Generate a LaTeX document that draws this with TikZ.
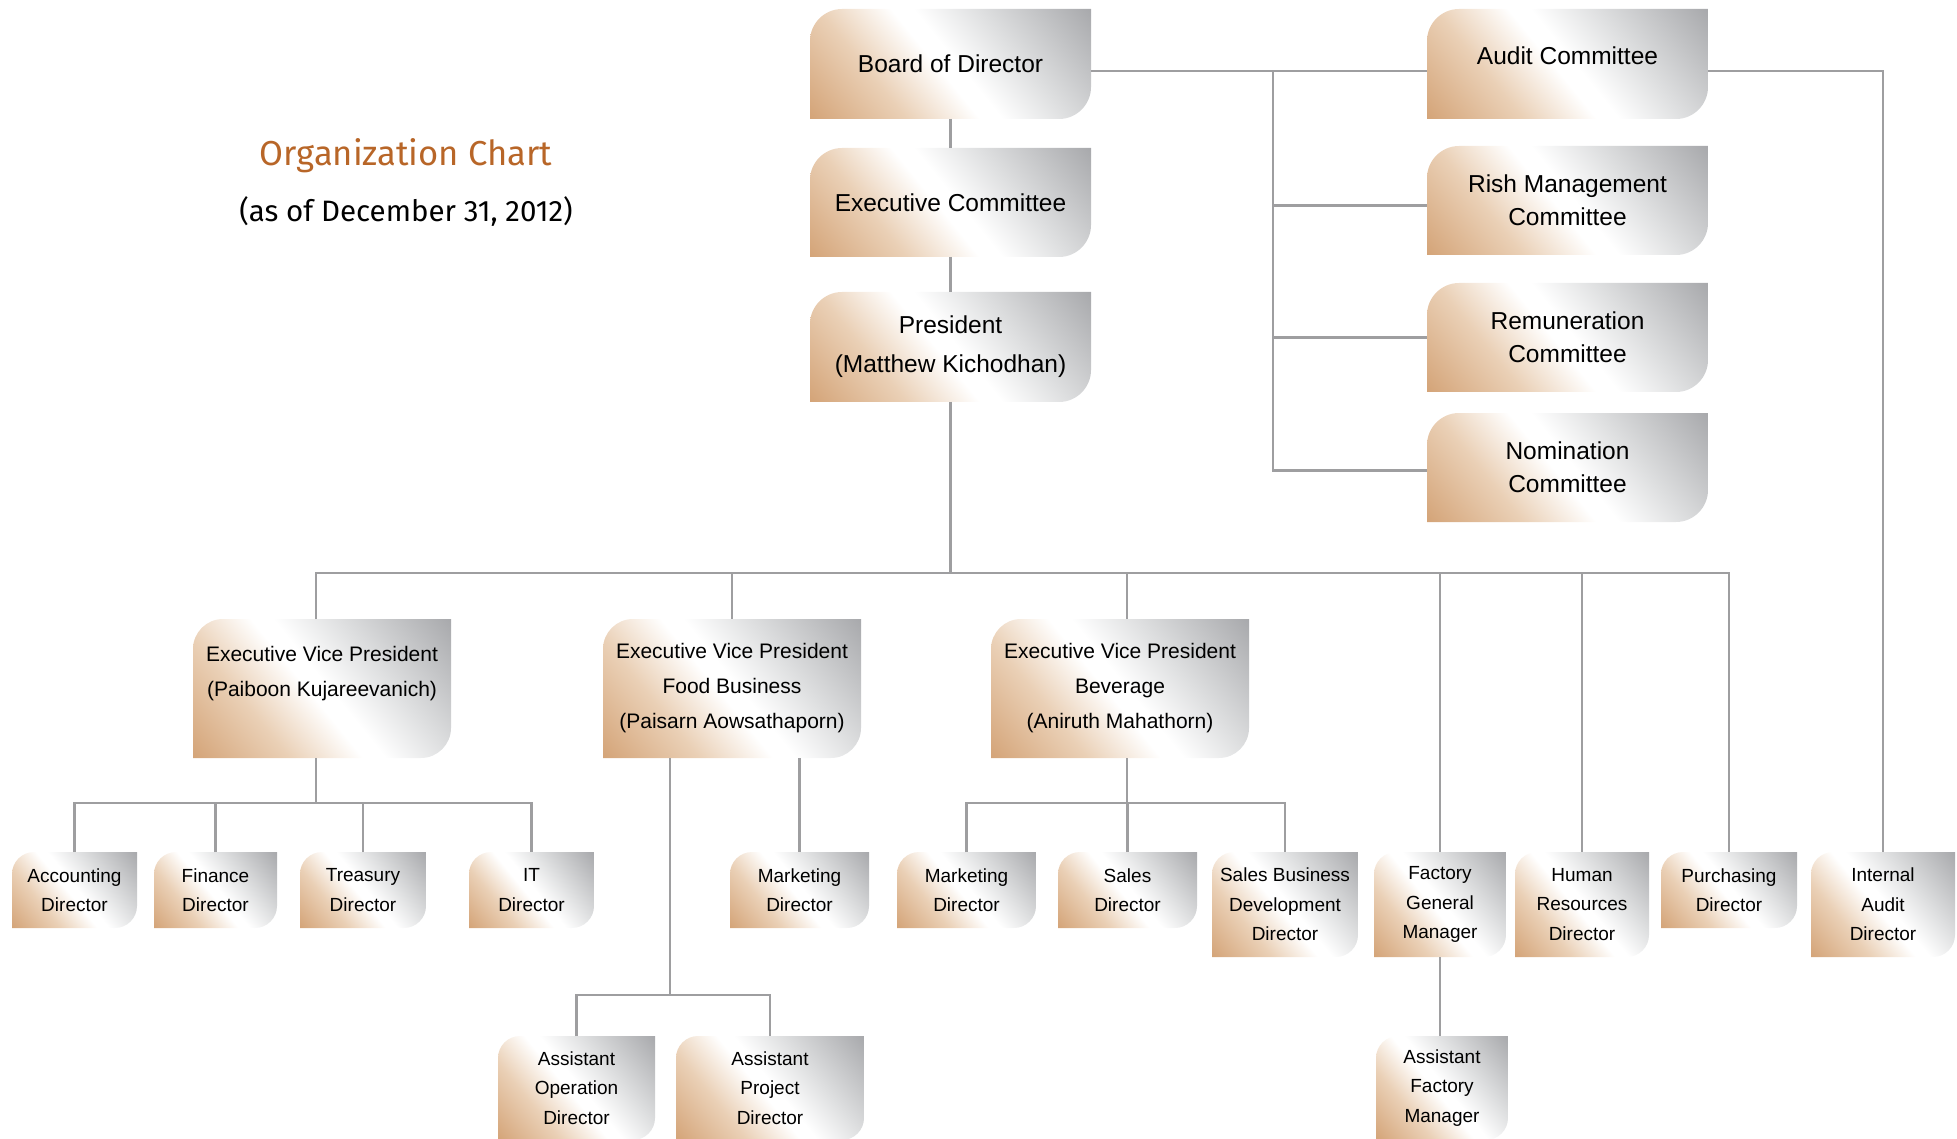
\documentclass[tikz,border=0pt]{standalone}
\usepackage{fontspec}
\setmainfont{Liberation Sans}
\newfontfamily\titlefont{Fira Sans}
\usetikzlibrary{calc}
\definecolor{orgtan}{RGB}{212,164,120}
\definecolor{orgtanl}{RGB}{234,208,182}
\definecolor{orggl}{RGB}{222,223,224}
\definecolor{orggray}{RGB}{168,169,172}
\definecolor{orgline}{RGB}{158,158,160}
\definecolor{orgtitle}{RGB}{184,102,40}
\pgfdeclarehorizontalshading{orgsh}{100bp}{color(0bp)=(orgtan); color(25bp)=(orgtan); color(38bp)=(orgtanl); color(48bp)=(white); color(51bp)=(white); color(60bp)=(orggl); color(75bp)=(orggray); color(100bp)=(orggray)}
\newcommand\orgfill[3]{%
 \pgfmathsetmacro\orgW{#1}%
 \pgfmathsetmacro\orgH{-#2}%
 \pgfmathsetmacro\orgR{#3}%
 \pgfmathsetmacro\orgC{0.45*#3}%
 \pgfmathsetmacro\orgHR{-(#2-#3)}%
 \pgfmathsetmacro\orgHC{-(#2-0.45*#3)}%
 \pgfmathsetmacro\orgWR{#1-#3}%
 \pgfmathsetmacro\orgWC{#1-0.45*#3}%
 \pgfmathsetmacro\orgS{(#1*cos(39)+#2*sin(39))/2}%
 \pgfmathsetmacro\orgXa{#1/2-\orgS}%
 \pgfmathsetmacro\orgXb{#1/2+\orgS}%
 \pgfmathsetmacro\orgYa{-#2/2-\orgS}%
 \pgfmathsetmacro\orgYb{-#2/2+\orgS}%
 \clip ($(path picture bounding box.north west)+(0pt,\orgH pt)$)
   -- ($(path picture bounding box.north west)+(0pt,-\orgR pt)$)
   .. controls ($(path picture bounding box.north west)+(0pt,-\orgC pt)$)
   and ($(path picture bounding box.north west)+(\orgC pt,0pt)$)
   .. ($(path picture bounding box.north west)+(\orgR pt,0pt)$)
   -- ($(path picture bounding box.north west)+(\orgW pt,0pt)$)
   -- ($(path picture bounding box.north west)+(\orgW pt,\orgHR pt)$)
   .. controls ($(path picture bounding box.north west)+(\orgW pt,\orgHC pt)$)
   and ($(path picture bounding box.north west)+(\orgWC pt,\orgH pt)$)
   .. ($(path picture bounding box.north west)+(\orgWR pt,\orgH pt)$) -- cycle;
 \shade[shading=orgsh, shading angle=39]
   ($(path picture bounding box.north west)+(\orgXa pt,\orgYa pt)$) rectangle
   ($(path picture bounding box.north west)+(\orgXb pt,\orgYb pt)$);}
\tikzset{
 orgbox/.style n args={3}{rectangle, inner sep=0pt, outer sep=0pt, anchor=north west,
   minimum width=#1pt, minimum height=#2pt, align=center, text=black,
   path picture={\orgfill{#1}{#2}{#3}}},
 bigbox/.style n args={2}{orgbox={#1}{#2}{32}, font=\fontsize{24.5}{33}\selectfont},
 presbox/.style n args={2}{orgbox={#1}{#2}{32}, font=\fontsize{24.5}{39}\selectfont},
 evpbox/.style n args={2}{orgbox={#1}{#2}{30}, font=\fontsize{21}{35}\selectfont},
 smallbox/.style n args={2}{orgbox={#1}{#2}{22}, font=\fontsize{19}{29.5}\selectfont},
 conn/.style={draw=orgline, line width=2.6pt}
}
\begin{document}
\begin{tikzpicture}[x=1pt,y=-1pt]
\useasboundingbox (0,0) rectangle (1957,1139);
% titles
\node[font=\titlefont\fontsize{34.6}{40}\selectfont, text=orgtitle] (title) at (406,156) {Organization Chart};
\node[font=\titlefont\fontsize{29.5}{34}\selectfont] (subtitle) at (406,211) {(as of December 31, 2012)};
% top boxes
\node[bigbox={281}{110}] (bod) at (810,9) {Board of Director};
\node[bigbox={281}{109}] (exc) at (810,148) {Executive Committee};
\node[presbox={281}{110}] (pres) at (810,292) {President\\(Matthew Kichodhan)};
\node[bigbox={281}{110}] (aud) at (1427,9) {\raisebox{8pt}[17.6pt][0pt]{Audit Committee}};
\node[bigbox={281}{109}] (risk) at (1427,146) {Rish Management\\Committee};
\node[bigbox={281}{109}] (rem) at (1427,283) {Remuneration\\Committee};
\node[bigbox={281}{109}] (nom) at (1427,413) {Nomination\\Committee};
% EVPs
\node[evpbox={258}{139}] (evp1) at (193,619) {Executive Vice President\\(Paiboon Kujareevanich)\\\mbox{}};
\node[evpbox={258}{139}] (evp2) at (603,619) {Executive Vice President\\Food Business\\(Paisarn Aowsathaporn)};
\node[evpbox={258}{139}] (evp3) at (991,619) {Executive Vice President\\Beverage\\(Aniruth Mahathorn)};
% small boxes
\node[smallbox={125}{76}] (acc) at (12,852) {Accounting\\Director};
\node[smallbox={123}{76}] (fin) at (154,852) {Finance\\Director};
\node[smallbox={126}{76}] (tre) at (300,852) {Treasury\\Director};
\node[smallbox={125}{76}] (it) at (469,852) {IT\\Director};
\node[smallbox={139}{76}] (mkt1) at (730,852) {Marketing\\Director};
\node[smallbox={139}{76}] (mkt2) at (897,852) {Marketing\\Director};
\node[smallbox={139}{76}] (sal) at (1058,852) {Sales\\Director};
\node[smallbox={146}{105}] (sbd) at (1212,852) {Sales Business\\Development\\Director};
\node[smallbox={132}{105}] (fgm) at (1374,852) {Factory\\General\\Manager};
\node[smallbox={134}{105}] (hr) at (1515,852) {Human\\Resources\\Director};
\node[smallbox={136}{76}] (pur) at (1661,852) {Purchasing\\Director};
\node[smallbox={144}{105}] (ia) at (1811,852) {Internal\\Audit\\Director};
\node[smallbox={157}{104}] (aop) at (498,1036) {Assistant\\Operation\\Director};
\node[smallbox={188}{104}] (apj) at (676,1036) {Assistant\\Project\\Director};
\node[smallbox={132}{104}] (afm) at (1376,1036) {Assistant\\Factory\\Manager};
% connectors
\draw[conn] (bod.south) -- (exc.north);
\draw[conn] (exc.south) -- (pres.north);
\coordinate (busL) at (316,573);
\draw[conn] (pres.south) -- (pres.south |- busL);
\draw[conn] (evp1.north -| busL) -- (busL) -- (pur.north |- busL) -- (pur.north);
\draw[conn] (evp2.north |- busL) -- (evp2.north);
\coordinate (d3) at (1127,573);
\draw[conn] (d3) -- (d3 |- evp3.north);
\draw[conn] (fgm.north |- busL) -- (fgm.north);
\draw[conn] (hr.north |- busL) -- (hr.north);
% committees
\draw[conn] ([yshift=-7pt]bod.east) -- ([yshift=-7pt]aud.west);
\coordinate (sp) at (1273,71);
\draw[conn] (sp) |- ([yshift=-3pt]nom.west);
\draw[conn] ([yshift=-5pt]risk.west -| sp) -- ([yshift=-5pt]risk.west);
\draw[conn] (rem.west -| sp) -- (rem.west);
\draw[conn] ([yshift=-7pt]aud.east) -| (ia.north);
% EVP1 group
\coordinate (s1) at (316,803);
\draw[conn] (evp1.south -| s1) -- (s1);
\draw[conn] (acc.north) |- (s1) -| (it.north);
\draw[conn] (fin.north) -- (fin.north |- s1);
\draw[conn] (tre.north) -- (tre.north |- s1);
% EVP2 group
\coordinate (s2) at (670,995);
\draw[conn] (evp2.south -| s2) -- (s2);
\draw[conn] (aop.north) |- (s2) -| (apj.north);
\draw[conn] (mkt1.north |- evp2.south) -- (mkt1.north);
% EVP3 group
\coordinate (s3) at (1127,803);
\draw[conn] (evp3.south -| s3) -- (s3);
\draw[conn] (mkt2.north) |- (s3) -| (sbd.north);
\draw[conn] (sal.north) -- (sal.north |- s3);
% factory
\draw[conn] (fgm.south) -- (fgm.south |- afm.north);
\end{tikzpicture}
\end{document}
